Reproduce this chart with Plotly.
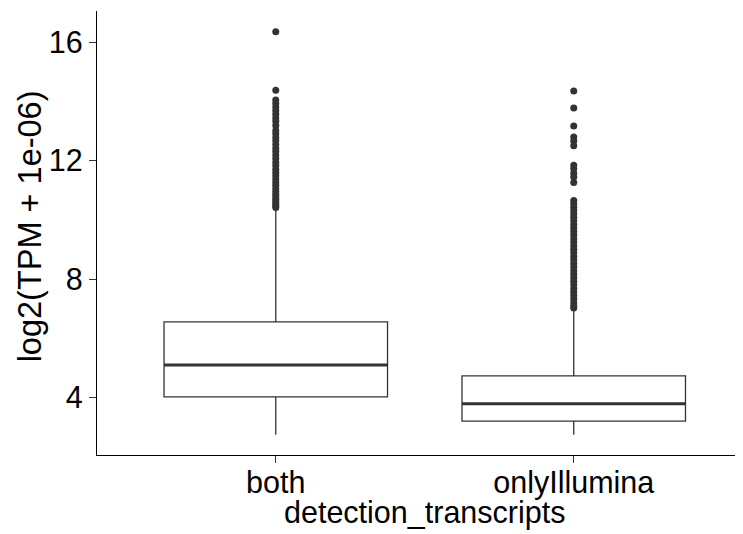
import plotly.graph_objects as go

categories = ["both", "onlyIllumina"]
q1 = [4.03, 3.21]
median = [5.11, 3.80]
q3 = [6.56, 4.74]
lowerfence = [2.75, 2.75]
upperfence = [10.36, 7.00]

both_outliers = [16.35, 14.38, 14.05, 13.93, 13.81, 13.69, 13.57, 13.44, 13.33, 13.19,
                 13.02, 12.91, 12.78, 12.67, 12.55, 12.42, 12.31, 12.19, 12.07, 11.95,
                 11.84, 11.71, 11.60, 11.49, 11.38, 11.27, 11.17, 11.06, 10.96, 10.87,
                 10.78, 10.70, 10.62, 10.55, 10.48, 10.42]
illumina_outliers = [14.35, 13.78, 13.17, 12.80, 12.66, 12.50, 11.85, 11.73, 11.58, 11.45,
                     11.26, 10.66, 10.55, 10.43, 10.31, 10.20, 10.08, 9.97, 9.85, 9.73,
                     9.61, 9.49, 9.37, 9.26, 9.13, 9.01, 8.90, 8.77, 8.66, 8.53,
                     8.41, 8.29, 8.17, 8.05, 7.93, 7.81, 7.69, 7.57, 7.45, 7.33,
                     7.21, 7.10, 7.03]
outliers = [both_outliers, illumina_outliers]

yticks = [4, 8, 12, 16]
x_title = "detection_transcripts"
y_title = "log2(TPM + 1e-06)"

LINE = "#333333"
FONT = "Liberation Sans, Arial, Helvetica, sans-serif"
BOX_W = 0.75

fig = go.Figure()
xpos = list(range(len(categories)))

fig.add_trace(go.Box(
    x=xpos, q1=q1, median=median, q3=q3,
    lowerfence=lowerfence, upperfence=upperfence,
    width=BOX_W, whiskerwidth=0,
    fillcolor="white", line=dict(color=LINE, width=1.3),
    boxpoints=False, showlegend=False, hoverinfo="skip",
))

# thicker median lines (ggplot style)
for i, m in enumerate(median):
    fig.add_trace(go.Scatter(
        x=[i - BOX_W / 2, i + BOX_W / 2], y=[m, m], mode="lines",
        line=dict(color=LINE, width=3), showlegend=False, hoverinfo="skip",
    ))

for i, pts in enumerate(outliers):
    fig.add_trace(go.Scatter(
        x=[i] * len(pts), y=pts, mode="markers",
        marker=dict(color=LINE, size=7, line=dict(width=0)),
        showlegend=False, hoverinfo="skip",
    ))

# page body has an 8px default margin, so the figure is sized to fit the window
fig.update_layout(
    width=735, height=526,
    margin=dict(l=89, r=0, t=3, b=79),
    paper_bgcolor="white", plot_bgcolor="white",
    font=dict(family=FONT, size=30, color="black"),
    showlegend=False,
    annotations=[
        dict(text=x_title, xref="paper", yref="paper", x=0.5077, y=-0.1306,
             xanchor="center", yanchor="middle", showarrow=False,
             font=dict(size=30.5, color="black")),
        dict(text=y_title, xref="paper", yref="paper", x=-0.1037, y=0.515,
             xanchor="center", yanchor="middle", textangle=-90, showarrow=False,
             font=dict(size=32.5, color="black")),
    ],
)
fig.update_xaxes(
    range=[-0.6, 1.568], tickvals=xpos, ticktext=categories,
    showline=True, linecolor="black", linewidth=1.2,
    ticks="outside", ticklen=7, tickwidth=1.2, tickcolor=LINE,
    showgrid=False, zeroline=False, automargin=False,
    ticklabelstandoff=-7,
    tickfont=dict(size=30.5, color="black"),
)
fig.update_yaxes(
    range=[2.07, 17.05], tickvals=yticks, ticktext=[str(t) for t in yticks],
    showline=True, linecolor="black", linewidth=1.2,
    ticks="outside", ticklen=7, tickwidth=1.2, tickcolor=LINE,
    showgrid=False, zeroline=False, automargin=False,
    tickfont=dict(size=30.5, color="black"),
)

fig.write_html("out.html")
